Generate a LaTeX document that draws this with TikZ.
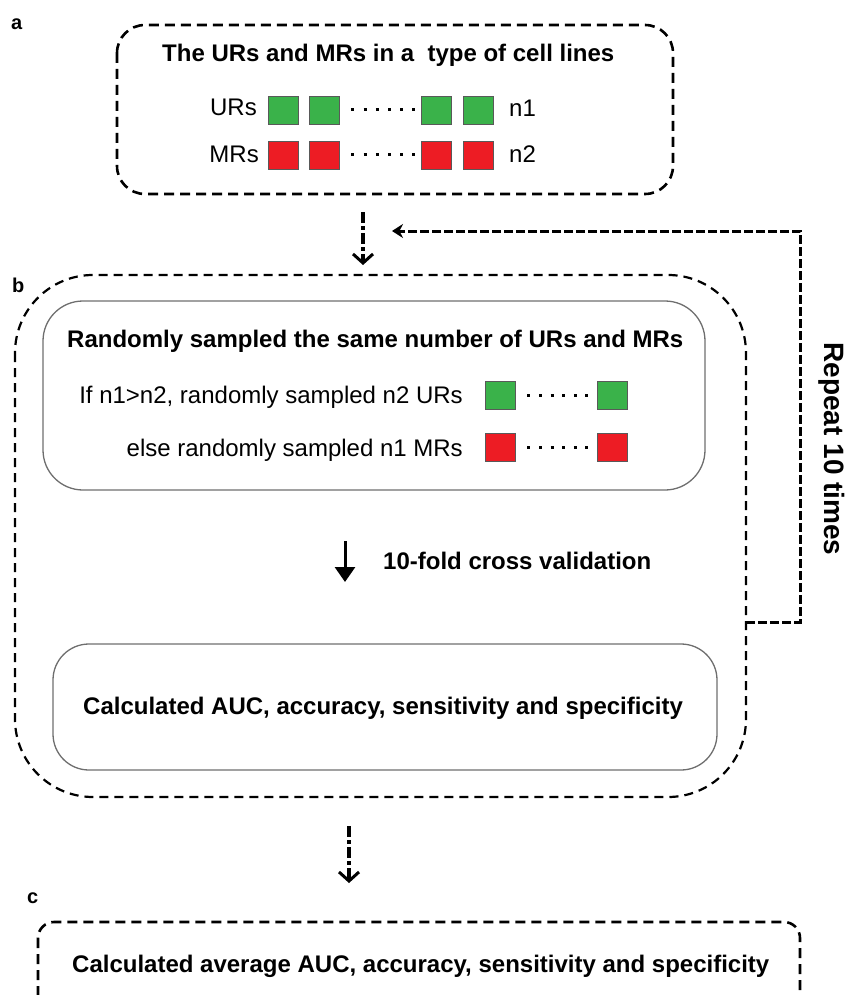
\documentclass[tikz,border=0pt]{standalone}
\usepackage{fontspec}
\setmainfont{Liberation Sans}
\usetikzlibrary{arrows.meta}
\definecolor{sqgreen}{RGB}{58,178,74}
\definecolor{sqred}{RGB}{237,28,36}
\definecolor{boxgray}{RGB}{110,110,110}
\tikzset{
  x=1pt, y=-1pt,
  outerbox/.style={draw=black, line width=2.6pt, dash pattern=on 10pt off 6pt, rounded corners=#1},
  innerbox/.style={draw=boxgray, line width=1.3pt, rounded corners=36pt},
  gsq/.style={draw=black!65, line width=0.8pt, fill=sqgreen, minimum width=30pt, minimum height=28pt, inner sep=0pt},
  rsq/.style={draw=black!65, line width=0.8pt, fill=sqred, minimum width=30pt, minimum height=28pt, inner sep=0pt},
  dotline/.style={line width=3pt, dash pattern=on 3pt off #1},
  btxt/.style={inner sep=0pt, font=\fontsize{24}{28}\selectfont\bfseries},
  rtxt/.style={inner sep=0pt, font=\fontsize{24}{28}\selectfont},
  lbl/.style={inner sep=0pt, anchor=base west, font=\fontsize{20}{22}\selectfont\bfseries},
  ddarrow/.style={line width=4pt, dash pattern=on 11pt off 3pt on 4pt off 3pt,
     -{Straight Barb[length=9pt,width=20pt,line width=3pt]}},
  looparrow/.style={line width=3pt, dash pattern=on 9pt off 3pt,
     -{Stealth[length=11pt,width=14pt]}},
  solidarrow/.style={line width=3pt, -{Triangle[length=15pt,width=20pt]}}
}
\begin{document}
\begin{tikzpicture}
\useasboundingbox (0,0) rectangle (848,995);
\clip (0,0) rectangle (848,995);

% labels
\node[lbl] (la) at (11,30) {a};
\node[lbl] (lb) at (12,292) {b};
\node[lbl] (lc) at (27,903) {c};

% box a
\draw[outerbox=28pt] (117,25) rectangle (673,194);
\node[btxt, anchor=base west] (ta) at (162,62) {The URs and MRs in a\ \ type of cell lines};
\node[rtxt, anchor=base east] (urs) at (257,116) {URs};
\node[rtxt, anchor=base east] (mrs) at (259,163) {MRs};
\node[gsq] (g1) at (283,110) {};
\node[gsq] (g2) at (324,110) {};
\node[gsq] (g3) at (436,110) {};
\node[gsq] (g4) at (478,110) {};
\node[rsq] (r1) at (283,155) {};
\node[rsq] (r2) at (324,155) {};
\node[rsq] (r3) at (436,155) {};
\node[rsq] (r4) at (478,155) {};
\draw[dotline=9.2pt] ([xshift=12pt]g2.east) -- ([xshift=-6pt]g3.west);
\draw[dotline=9.2pt] ([xshift=12pt]r2.east) -- ([xshift=-6pt]r3.west);
\node[rtxt, anchor=base west] (n1) at (509,117) {n1};
\node[rtxt, anchor=base west] (n2) at (509,163) {n2};

% box b
\draw[outerbox=78pt, line width=2.2pt, dash pattern=on 9pt off 6pt] (15,275) rectangle (746,797);
\coordinate (boxbE) at (746,622);
\draw[innerbox, rounded corners=40pt] (43,301) rectangle (705,490);
\node[btxt, anchor=base west] (tb) at (67,347) {Randomly sampled the same number of URs and MRs};
\node[rtxt, anchor=base east] (ifl) at (463,403) {If n1>n2, randomly sampled n2 URs};
\node[rtxt, anchor=base east] (else) at (463,456) {else randomly sampled n1 MRs};
\node[gsq] (bg1) at (500,395) {};
\node[gsq] (bg2) at (612,395) {};
\node[rsq] (br1) at (500,447.5) {};
\node[rsq] (br2) at (612,447.5) {};
\draw[dotline=8.6pt] ([xshift=12pt]bg1.east) -- ([xshift=-9pt]bg2.west);
\draw[dotline=8.6pt] ([xshift=12pt]br1.east) -- ([xshift=-9pt]br2.west);

\coordinate (s1) at (345,541);
\coordinate (s2) at (345,582);
\draw[solidarrow] (s1) -- (s2);
\node[btxt, anchor=base west] (cv) at (383,569) {10-fold cross validation};

\draw[innerbox] (53,644) rectangle (717,770);
\node[btxt, anchor=base west] (calc) at (83,714) {Calculated AUC, accuracy, sensitivity and specificity};

% arrows between boxes
\coordinate (d1a) at (363,212);
\coordinate (d1b) at (363,265);
\draw[ddarrow] (d1a) -- (d1b);
\coordinate (d2a) at (349,826);
\coordinate (d2b) at (349,883);
\draw[ddarrow] (d2a) -- (d2b);

% repeat loop
\coordinate (lp1) at (800,622);
\coordinate (lp2) at (800,231);
\coordinate (lp3) at (392,231);
\draw[looparrow] (boxbE) -- (lp1) -- (lp2) -- (lp3);
\node[inner sep=0pt, rotate=-90, font=\fontsize{28}{32}\selectfont\bfseries] (rep) at (832,449) {Repeat 10 times};

% box c
\draw[outerbox=16pt] (38,922) rectangle (800,1030);
\node[btxt, anchor=base west] (tc) at (72,972) {Calculated average AUC, accuracy, sensitivity and specificity};
\end{tikzpicture}
\end{document}
